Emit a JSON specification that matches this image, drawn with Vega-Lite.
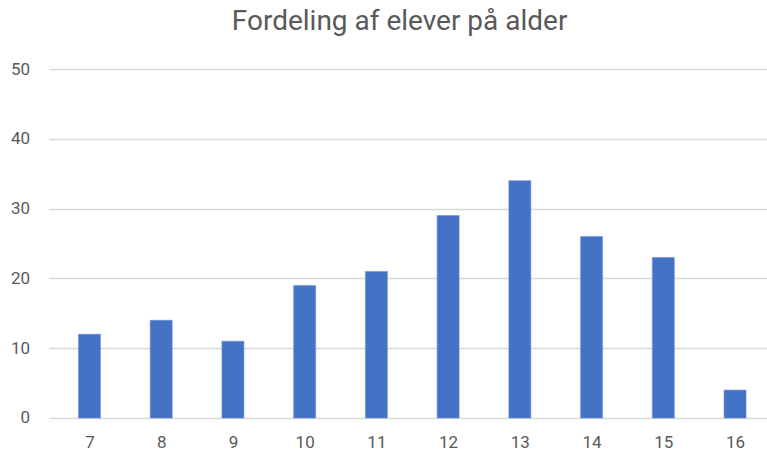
{
  "$schema": "https://vega.github.io/schema/vega-lite/v6.json",
  "autosize": "none",
  "width": 718,
  "height": 349,
  "padding": {"left": 48.6, "top": 69, "right": 0, "bottom": 34},
  "background": "white",
  "title": {
    "text": "Fordeling af elever på alder",
    "font": "Liberation Sans Narrow, Roboto",
    "fontSize": 28,
    "fontWeight": "normal",
    "color": "#595959",
    "anchor": "middle",
    "dx": -8,
    "offset": 24
  },
  "config": {"view": {"stroke": null}},
  "data": {
    "values": [
      {"alder": 7, "antal": 12},
      {"alder": 8, "antal": 14},
      {"alder": 9, "antal": 11},
      {"alder": 10, "antal": 19},
      {"alder": 11, "antal": 21},
      {"alder": 12, "antal": 29},
      {"alder": 13, "antal": 34},
      {"alder": 14, "antal": 26},
      {"alder": 15, "antal": 23},
      {"alder": 16, "antal": 4}
    ]
  },
  "mark": {"type": "bar", "size": 22, "color": "#4472C4", "stroke": "#6b8fd4", "strokeWidth": 0.6},
  "encoding": {
    "x": {
      "field": "alder",
      "type": "quantitative",
      "scale": {"domain": [6.5, 16.37], "nice": false, "zero": false},
      "axis": {
        "values": [7, 8, 9, 10, 11, 12, 13, 14, 15, 16],
        "format": "d",
        "title": null,
        "grid": false,
        "domain": false,
        "ticks": false,
        "labelFont": "Liberation Sans Narrow, Roboto",
        "labelFontSize": 17,
        "labelColor": "#595959",
        "labelPadding": 17,
        "labelBaseline": "top",
        "labelFlush": false
      }
    },
    "y": {
      "field": "antal",
      "type": "quantitative",
      "scale": {"domain": [0, 50], "nice": false},
      "axis": {
        "values": [0, 10, 20, 30, 40, 50],
        "title": null,
        "grid": true,
        "gridColor": "#d9d9d9",
        "gridWidth": 1.5,
        "domain": false,
        "ticks": false,
        "labelFont": "Liberation Sans Narrow, Roboto",
        "labelFontSize": 17,
        "labelColor": "#595959",
        "labelPadding": 19
      }
    }
  }
}
